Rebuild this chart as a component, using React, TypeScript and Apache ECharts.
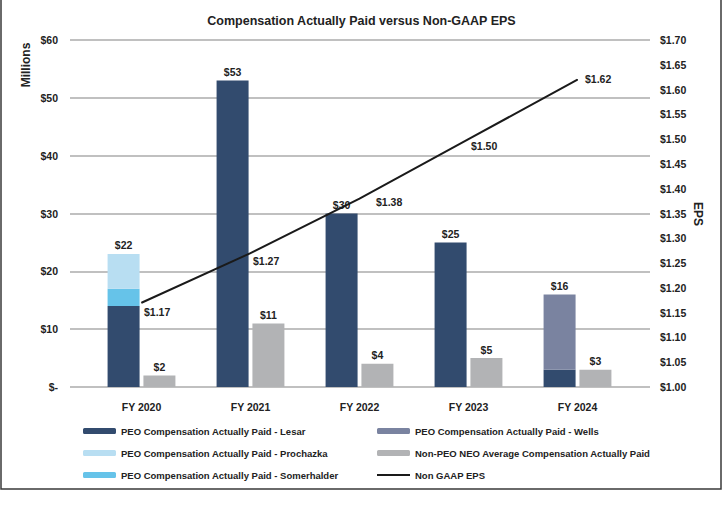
import React, { useEffect, useRef } from "react";
import * as echarts from "echarts";

const categories = ["FY 2020", "FY 2021", "FY 2022", "FY 2023", "FY 2024"];
const lesar = [14, 53, 30, 25, 3];
const somerhalder = [3, null, null, null, null];
const prochazka = [6, null, null, null, null];
const wells = [null, null, null, null, 13];
const peoTotals = [22, 53, 30, 25, 16];
const nonPeo = [2, 11, 4, 5, 3];
const eps = [1.17, 1.27, 1.38, 1.5, 1.62];

const leftMin = 0;
const leftMax = 60;
const leftInterval = 10;
const rightMin = 1.0;
const rightMax = 1.7;
const rightInterval = 0.05;

// label placement (styling only)
const epsLabelOffsets = [
  [0, 9],
  [0, 8],
  [14, 3],
  [0, 7],
  [5, -1],
];

const N_LESAR = "PEO Compensation Actually Paid - Lesar";
const N_PROCH = "PEO Compensation Actually Paid - Prochazka";
const N_SOMER = "PEO Compensation Actually Paid - Somerhalder";
const N_WELLS = "PEO Compensation Actually Paid - Wells";
const N_NONPEO = "Non-PEO NEO Average Compensation Actually Paid";
const N_EPS = "Non GAAP EPS";

const FONT = "'Liberation Sans', Arial, Helvetica, sans-serif";
const TXT = "#222222";

export default function App() {
  const ref = useRef<HTMLDivElement>(null);

  useEffect(() => {
    if (!ref.current) return;
    const chart = echarts.init(ref.current, undefined, { renderer: "svg" });

    const stackDefs = [
      { name: N_LESAR, data: lesar, color: "#324b6e" },
      { name: N_SOMER, data: somerhalder, color: "#66c3e9" },
      { name: N_PROCH, data: prochazka, color: "#b8def2" },
      { name: N_WELLS, data: wells, color: "#7a83a0" },
    ];
    const topIdx = categories.map((_, i) => {
      let t = -1;
      stackDefs.forEach((d, k) => {
        if (d.data[i] != null) t = k;
      });
      return t;
    });

    const labelBase = {
      position: "top",
      distance: 3,
      fontFamily: FONT,
      fontWeight: "bold",
      fontSize: 10.5,
      color: TXT,
    };

    const stackSeries = stackDefs.map((d, k) => ({
      name: d.name,
      type: "bar",
      xAxisIndex: 1,
      yAxisIndex: 2,
      stack: "peo",
      barWidth: 32,
      barGap: "12%",
      itemStyle: { color: d.color },
      label: { ...labelBase, show: false },
      data: d.data.map((v, i) =>
        v == null
          ? null
          : {
              value: v,
              label: { show: topIdx[i] === k, formatter: "$" + peoTotals[i] },
            }
      ),
    }));

    const axisLabelStyle = {
      fontFamily: FONT,
      fontWeight: "bold",
      fontSize: 10.5,
      color: TXT,
    };
    const legendText = {
      fontFamily: FONT,
      fontWeight: "bold",
      fontSize: 9.5,
      color: TXT,
      lineHeight: 14,
    };

    const option = {
      animation: false,
      backgroundColor: "#ffffff",
      textStyle: { fontFamily: FONT },
      title: {
        text: "Compensation Actually Paid versus Non-GAAP EPS",
        left: "center",
        top: 9,
        textStyle: { fontFamily: FONT, fontWeight: "bold", fontSize: 12.5, color: TXT },
      },
      grid: [
        { left: 70, right: 73, top: 40, bottom: 122 },
        { left: 87, right: 91, top: 40, bottom: 122 },
      ],
      legend: [
        {
          orient: "vertical",
          left: 78,
          top: 419,
          itemWidth: 33,
          itemHeight: 6,
          itemGap: 8,
          textStyle: legendText,
          data: [N_LESAR, N_PROCH, N_SOMER],
        },
        {
          orient: "vertical",
          left: 372,
          top: 419,
          itemWidth: 33,
          itemHeight: 6,
          itemGap: 8,
          textStyle: legendText,
          data: [
            N_WELLS,
            N_NONPEO,
            { name: N_EPS, icon: "path://M0,0 L33,0 L33,2.2 L0,2.2 Z" },
          ],
        },
      ],
      xAxis: [
        {
          type: "category",
          gridIndex: 0,
          data: categories,
          show: false,
        },
        {
          type: "category",
          gridIndex: 1,
          data: categories,
          axisLine: { show: false },
          axisTick: { show: false },
          axisLabel: { ...axisLabelStyle, margin: 14 },
        },
      ],
      yAxis: [
        {
          type: "value",
          gridIndex: 0,
          position: "left",
          min: leftMin,
          max: leftMax,
          interval: leftInterval,
          axisLine: { show: false },
          axisTick: { show: false },
          splitLine: { show: true, lineStyle: { color: "#ababab", width: 1.5 } },
          axisLabel: {
            ...axisLabelStyle,
            margin: 12,
            formatter: (v: number) => (v === 0 ? "$-" : "$" + v),
          },
        },
        {
          type: "value",
          gridIndex: 0,
          position: "right",
          min: rightMin,
          max: rightMax,
          interval: rightInterval,
          axisLine: { show: false },
          axisTick: { show: false },
          splitLine: { show: false },
          axisLabel: {
            ...axisLabelStyle,
            margin: 10,
            formatter: (v: number) => "$" + v.toFixed(2),
          },
        },
        {
          type: "value",
          gridIndex: 1,
          min: leftMin,
          max: leftMax,
          interval: leftInterval,
          show: false,
          splitLine: { show: false },
        },
        {
          type: "value",
          gridIndex: 1,
          min: rightMin,
          max: rightMax,
          interval: rightInterval,
          show: false,
          splitLine: { show: false },
        },
      ],
      series: [
        ...stackSeries,
        {
          name: N_NONPEO,
          type: "bar",
          xAxisIndex: 1,
          yAxisIndex: 2,
          barWidth: 32,
          barGap: "12%",
          itemStyle: { color: "#b2b3b5" },
          label: { ...labelBase, show: true, formatter: (p: any) => "$" + p.value },
          data: nonPeo,
        },
        {
          name: N_EPS,
          type: "line",
          xAxisIndex: 1,
          yAxisIndex: 3,
          symbol: "circle",
          symbolSize: 1,
          itemStyle: { color: "#1a1a1a" },
          lineStyle: { color: "#1a1a1a", width: 2 },
          label: {
            show: true,
            position: "right",
            distance: 2,
            fontFamily: FONT,
            fontWeight: "bold",
            fontSize: 10.5,
            color: TXT,
            formatter: (p: any) => "$" + Number(p.value).toFixed(2),
          },
          data: eps.map((v, i) => ({ value: v, label: { offset: epsLabelOffsets[i] } })),
          z: 5,
        },
      ],
      graphic: [
        {
          type: "rect",
          silent: true,
          shape: { x: 1, y: -2, width: 720, height: 491 },
          style: { fill: "none", stroke: "#3a3a3a", lineWidth: 1.5 },
        },
        {
          type: "text",
          x: 26,
          y: 65,
          rotation: Math.PI / 2,
          style: {
            text: "Millions",
            fontFamily: FONT,
            fontWeight: "bold",
            fontSize: 12,
            fill: TXT,
            align: "center",
            verticalAlign: "middle",
          },
        },
        {
          type: "text",
          x: 698,
          y: 214,
          rotation: -Math.PI / 2,
          style: {
            text: "EPS",
            fontFamily: FONT,
            fontWeight: "bold",
            fontSize: 12,
            fill: TXT,
            align: "center",
            verticalAlign: "middle",
          },
        },
      ],
    };

    chart.setOption(option as any);
    return () => chart.dispose();
  }, []);

  return (
    <div
      ref={ref}
      style={{ position: "fixed", left: 0, top: 0, width: 723, height: 509, background: "#fff" }}
    />
  );
}
